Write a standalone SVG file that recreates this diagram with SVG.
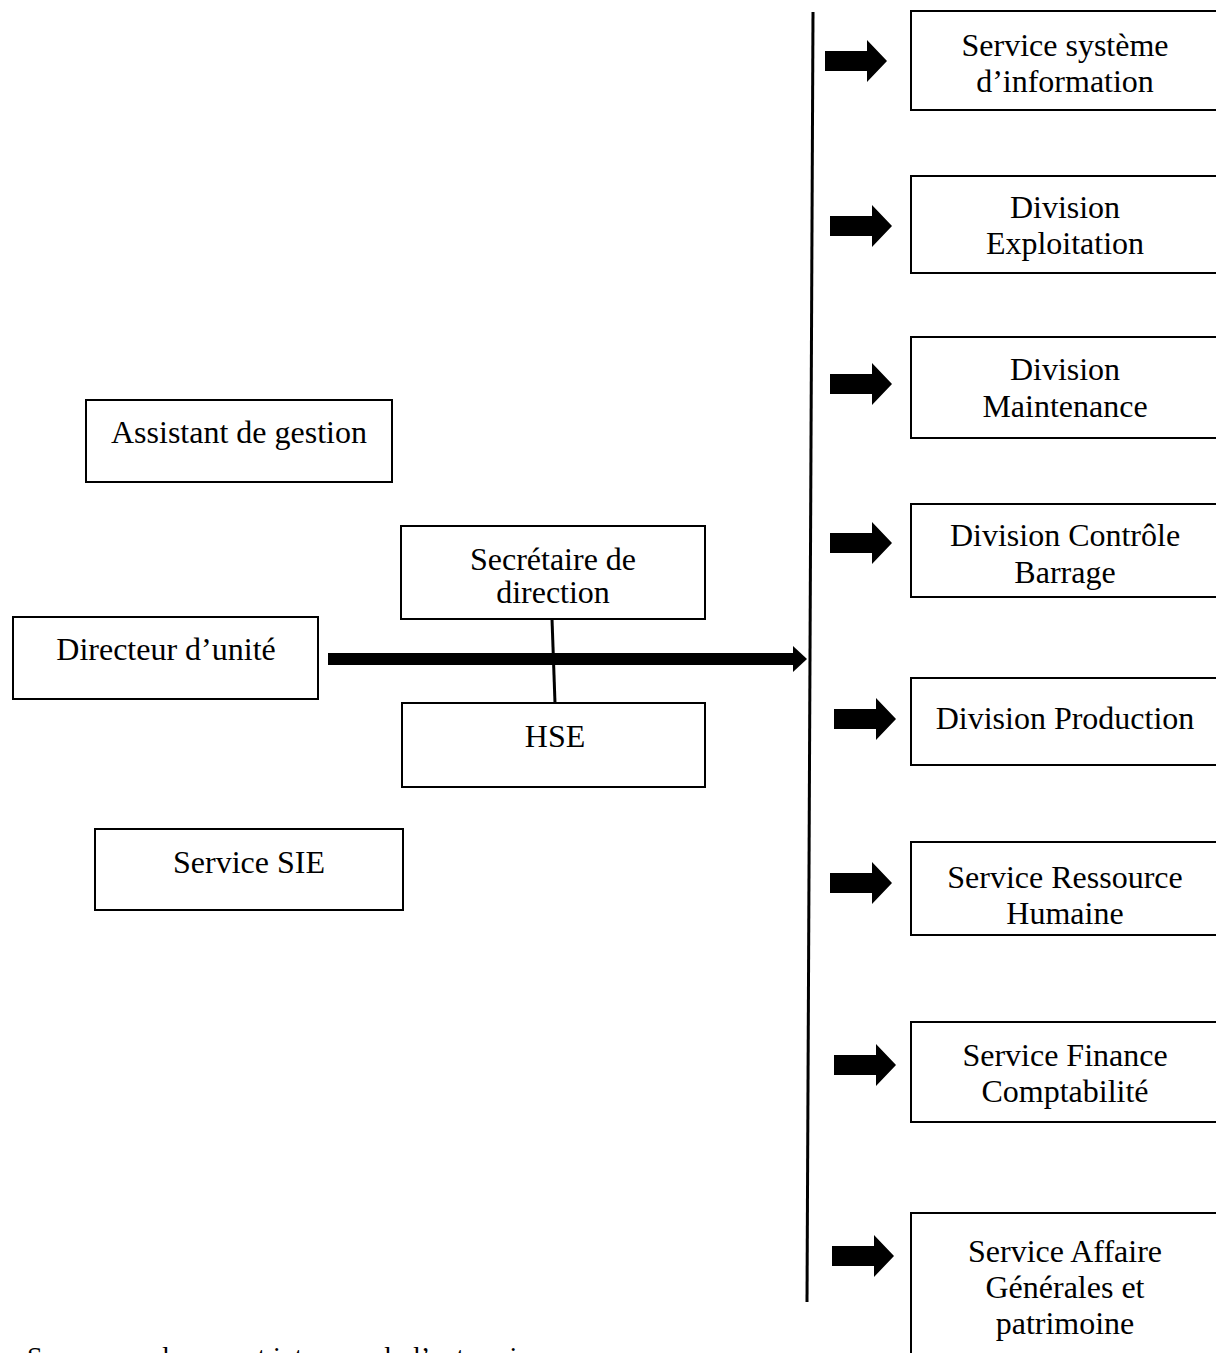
<svg xmlns="http://www.w3.org/2000/svg" width="1216" height="1353" viewBox="0 0 1216 1353">
<style>
.box{fill:#fff;stroke:#000;stroke-width:2}
.t{font-family:"Liberation Serif","Times New Roman",serif;font-size:32px;fill:#000;text-anchor:middle}
.src{font-family:"Liberation Serif","Times New Roman",serif;font-size:28px;fill:#000}
</style>
<defs>
<path id="barrow" d="M0,-10 H42 V-21 L62,0 L42,21 V10 H0 Z" fill="#000"/>
</defs>
<rect width="1216" height="1353" fill="#fff"/>

<g id="connectors">
<path d="M813,12 L807,1302" stroke="#000" stroke-width="3" fill="none"/>
<rect x="328" y="653" width="467" height="12" fill="#000"/>
<path d="M793,646 L807,659 L793,672 Z" fill="#000"/>
<path d="M552,619 L555,703" stroke="#000" stroke-width="3" fill="none"/>
<use href="#barrow" x="825" y="61"/>
<use href="#barrow" x="830" y="226"/>
<use href="#barrow" x="830" y="384"/>
<use href="#barrow" x="830" y="543"/>
<use href="#barrow" x="834" y="719"/>
<use href="#barrow" x="830" y="883"/>
<use href="#barrow" x="834" y="1065"/>
<use href="#barrow" x="832" y="1256"/>
</g>

<g id="assistant">
<rect class="box" x="86" y="400" width="306" height="82"/>
<text class="t" x="239" y="443">Assistant de gestion</text>
</g>
<g id="directeur">
<rect class="box" x="13" y="617" width="305" height="82"/>
<text class="t" x="166" y="660">Directeur d’unité</text>
</g>
<g id="secretaire">
<rect class="box" x="401" y="526" width="304" height="93"/>
<text class="t" x="553" y="570">Secrétaire de</text>
<text class="t" x="553" y="603">direction</text>
</g>
<g id="hse">
<rect class="box" x="402" y="703" width="303" height="84"/>
<text class="t" x="555" y="747">HSE</text>
</g>
<g id="sie">
<rect class="box" x="95" y="829" width="308" height="81"/>
<text class="t" x="249" y="873">Service SIE</text>
</g>

<g id="service-si">
<rect class="box" x="911" y="11" width="308" height="99"/>
<text class="t" x="1065" y="56">Service système</text>
<text class="t" x="1065" y="92">d’information</text>
</g>
<g id="exploitation">
<rect class="box" x="911" y="176" width="308" height="97"/>
<text class="t" x="1065" y="218">Division</text>
<text class="t" x="1065" y="254">Exploitation</text>
</g>
<g id="maintenance">
<rect class="box" x="911" y="337" width="308" height="101"/>
<text class="t" x="1065" y="380">Division</text>
<text class="t" x="1065" y="417">Maintenance</text>
</g>
<g id="controle">
<rect class="box" x="911" y="504" width="308" height="93"/>
<text class="t" x="1065" y="546">Division Contrôle</text>
<text class="t" x="1065" y="583">Barrage</text>
</g>
<g id="production">
<rect class="box" x="911" y="678" width="308" height="87"/>
<text class="t" x="1065" y="729">Division Production</text>
</g>
<g id="rh">
<rect class="box" x="911" y="842" width="308" height="93"/>
<text class="t" x="1065" y="888">Service Ressource</text>
<text class="t" x="1065" y="924">Humaine</text>
</g>
<g id="finance">
<rect class="box" x="911" y="1022" width="308" height="100"/>
<text class="t" x="1065" y="1066">Service Finance</text>
<text class="t" x="1065" y="1102">Comptabilité</text>
</g>
<g id="affaires">
<rect class="box" x="911" y="1213" width="308" height="160"/>
<text class="t" x="1065" y="1262">Service Affaire</text>
<text class="t" x="1065" y="1298">Générales et</text>
<text class="t" x="1065" y="1334">patrimoine</text>
</g>

<text class="src" y="1366"><tspan x="27">Source :</tspan><tspan x="155">document</tspan><tspan x="273">interne</tspan><tspan x="377">de</tspan><tspan x="413">l’entreprise</tspan></text>
</svg>
